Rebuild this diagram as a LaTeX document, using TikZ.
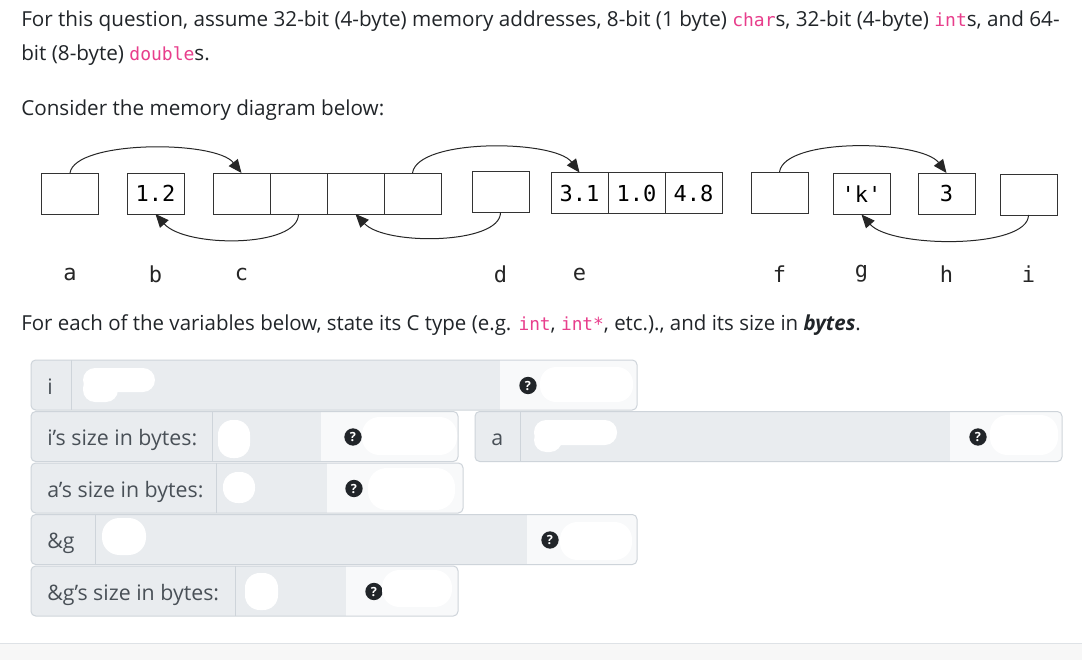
\documentclass[tikz,border=0pt]{standalone}
\usepackage{fontspec}
\setmainfont{Open Sans}
\setmonofont{DejaVu Sans Mono}
\usepackage{xcolor}
\usetikzlibrary{arrows.meta,positioning}
\definecolor{codepink}{HTML}{E83E8C}
\definecolor{bodytext}{HTML}{212529}
\definecolor{grptext}{HTML}{495057}
\definecolor{grpfill}{HTML}{E9ECEF}
\definecolor{appfill}{HTML}{F8F9FA}
\definecolor{grpline}{HTML}{CED4DA}
\definecolor{footfill}{HTML}{F7F7F7}
\definecolor{footline}{HTML}{DEE2E6}

\newcommand{\cd}[1]{{\ttfamily\color{codepink}\fontsize{13.5}{15}\selectfont #1}}

% one input group of the answer form: name, left, top, label divider,
% start of the light part, right, x of the help icon, label text
\newcommand{\ansgroup}[8]{%
  \begin{scope}
    \clip[rounded corners=3.5pt] (#2,#3) rectangle (#6,{#3+50});
    \fill[grpfill] (#2,#3) rectangle (#5,{#3+50});
    \fill[appfill] (#5,#3) rectangle (#6,{#3+50});
  \end{scope}
  \draw[grpline, line width=0.75pt, rounded corners=3.5pt] (#2,#3) rectangle (#6,{#3+50});
  \draw[grpline, line width=0.75pt] (#4,#3) -- (#4,{#3+50});
  \node[grplabel] (#1-lbl) at ({#2+16},{#3+34}) {#8};
  \node[qmark] (#1-q) at (#7,{#3+25.5}) {?};
}

\begin{document}
\begin{tikzpicture}[x=0.75pt, y=-0.75pt,
  memcell/.style={draw=black!80, line width=0.75pt, fill=white,
    minimum width=42.75pt, minimum height=30.75pt, inner sep=0pt, outer sep=0pt,
    font=\ttfamily\fontsize{16.5}{18}\selectfont},
  memptr/.style={-{Triangle[length=10pt,width=8.5pt]}, black!85, line width=0.75pt},
  varname/.style={font=\ttfamily\fontsize{16.5}{18}\selectfont, text=black!85},
  bodytxt/.style={anchor=base west, inner sep=0pt, text=bodytext,
    font=\fontsize{15.5}{20}\selectfont},
  grplabel/.style={anchor=base west, inner sep=0pt, text=grptext,
    font=\fontsize{16}{20}\selectfont},
  qmark/.style={circle, fill=bodytext, text=white, inner sep=0pt,
    minimum size=13pt, font=\bfseries\fontsize{9.5}{9.5}\selectfont},
  blot/.style={fill=white, rounded corners=11pt}]

  \useasboundingbox (0,0) rectangle (1082,660);
  \fill[white] (0,0) rectangle (1082,660);

  % question text
  \node[bodytxt] (intro1) at (21,27) {For this question, assume 32-bit (4-byte) memory addresses, 8-bit (1 byte) \cd{char}s, 32-bit (4-byte) \cd{int}s, and 64-};
  \node[bodytxt] (intro2) at (21,61) {bit (8-byte) \cd{double}s.};
  \node[bodytxt] (consider) at (21,116) {Consider the memory diagram below:};

  % memory cells
  \node[memcell] (a) at (70,193.5) {};
  \node[memcell] (b) at (155.5,193.5) {1.2};
  \node[memcell] (c1) at (241.5,193.5) {};
  \node[memcell, right=0pt of c1] (c2) {};
  \node[memcell, right=0pt of c2] (c3) {};
  \node[memcell, right=0pt of c3] (c4) {};
  \node[memcell] (d) at (500.5,192) {};
  \node[memcell] (e1) at (579.5,193) {3.1};
  \node[memcell, right=0pt of e1] (e2) {1.0};
  \node[memcell, right=0pt of e2] (e3) {4.8};
  \node[memcell] (f) at (779.5,192.5) {};
  \node[memcell] (g) at (861.5,194) {'k'};
  \node[memcell] (h) at (946.5,193.5) {3};
  \node[memcell] (i) at (1028.5,194.5) {};

  % pointers
  \draw[memptr] (a.north) .. controls +(5,-33) and +(-26,-33) .. (c1.north);
  \draw[memptr] (c2.south) .. controls +(0,34) and +(30,34) .. (b.south);
  \draw[memptr] (c4.north) .. controls +(5,-35) and +(-25,-33) .. (e1.north);
  \draw[memptr] (d.south) .. controls +(0,32) and +(30,32) .. (c3.south);
  \draw[memptr] (f.north) .. controls +(5,-35) and +(-25,-33) .. (h.north);
  \draw[memptr] (i.south) .. controls +(0,34) and +(30,34) .. (g.south);

  % variable names
  \coordinate (namerow) at (0,274);
  \foreach \v/\t in {a/a, b/b, c1/c, d/d, e1/e, f/f, g/g, h/h, i/i}
    \node[varname] (name-\v) at (\v |- namerow) {\t};

  \node[bodytxt] (task) at (21,330) {\scalebox{0.99}[1]{For each of the variables below, state its C type (e.g. \cd{int}, \cd{int*}, etc.)., and its size in \textbf{\textit{bytes}}.}};

  % answer form
  \ansgroup{ti}{31}{360}{71}{500}{637}{528}{i}
  \ansgroup{si}{31}{411.5}{212}{321}{458}{353}{i's size in bytes:}
  \ansgroup{ta}{475}{411.5}{520.5}{950}{1062}{978}{a}
  \ansgroup{sa}{31}{463}{216.5}{326.5}{463}{354}{a's size in bytes:}
  \ansgroup{tg}{31}{514.5}{95.5}{527}{637}{550}{\&g}
  \ansgroup{sg}{31}{566}{235.5}{346}{458}{374}{\&g's size in bytes:}

  % painted-out answers
  \fill[blot, rounded corners=9pt] (83,368) rectangle (155,392);
  \fill[blot, rounded corners=9pt] (83,376) rectangle (118,402);
  \fill[blot, rounded corners=12pt] (540,367) rectangle (633,402);
  \fill[blot] (218,420) rectangle (250,458);
  \fill[blot, rounded corners=13pt] (362,417) rectangle (457,455);
  \fill[blot, rounded corners=9pt] (534,420) rectangle (617,445);
  \fill[blot, rounded corners=9pt] (534,428) rectangle (562,452);
  \fill[blot, rounded corners=13pt] (990,415) rectangle (1058,455);
  \fill[blot] (223,472) rectangle (255,503);
  \fill[blot, rounded corners=14pt] (368,468) rectangle (455,510);
  \fill[blot, rounded corners=13pt] (102,518) rectangle (146,555);
  \fill[blot, rounded corners=13pt] (560,522) rectangle (632,560);
  \fill[blot] (245,573) rectangle (278,610);
  \fill[blot, rounded corners=13pt] (382,570) rectangle (452,607);

  % page footer
  \fill[footfill] (0,643) rectangle (1082,660);
  \draw[footline, line width=0.75pt] (0,643) -- (1082,643);
\end{tikzpicture}
\end{document}
